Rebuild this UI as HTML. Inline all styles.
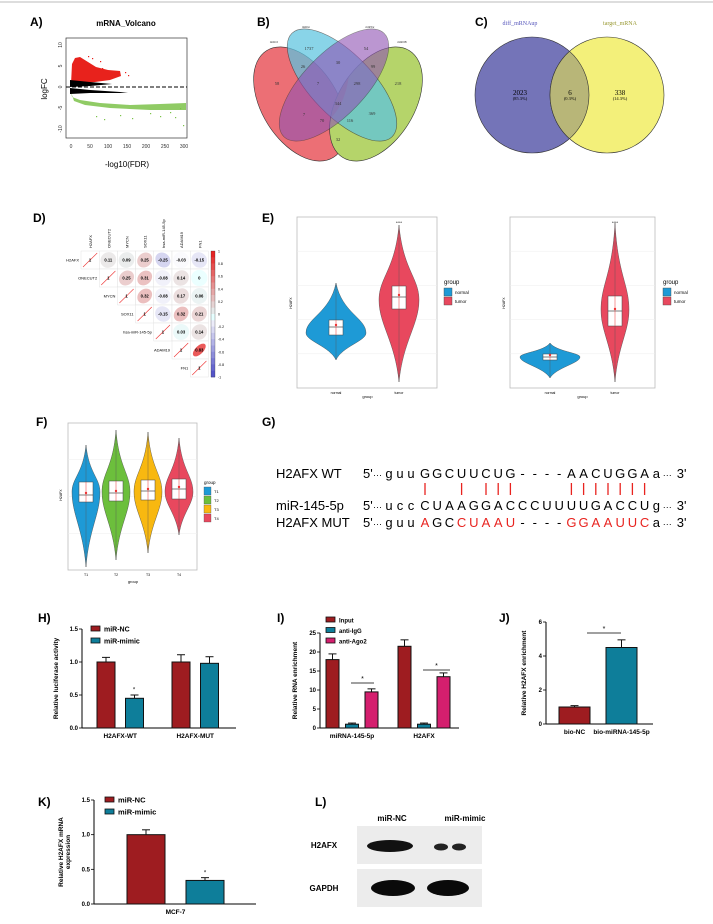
<!DOCTYPE html>
<html><head><meta charset="utf-8"><style>
body{margin:0;background:#fff}
svg{display:block;font-family:"Liberation Sans",Arial,sans-serif}
</style></head><body>
<svg id="fig" width="713" height="924" viewBox="0 0 713 924" xmlns="http://www.w3.org/2000/svg">
<defs>
<clipPath id="redClip"><ellipse cx="300" cy="104" rx="38" ry="63" transform="rotate(-32 300 104)"/></clipPath>
</defs>
<line x1="0" y1="2" x2="713" y2="2" stroke="#ddd" stroke-width="2"/>
<g font-weight="bold" font-size="12">
<text x="30" y="26">A)</text><text x="257" y="26">B)</text><text x="475" y="26">C)</text>
<text x="33" y="222">D)</text><text x="262" y="222">E)</text>
<text x="36" y="426">F)</text><text x="262" y="426">G)</text>
<text x="38" y="622">H)</text><text x="277" y="622">I)</text><text x="499" y="622">J)</text>
<text x="38" y="806">K)</text><text x="315" y="806">L)</text>
</g>
<!-- A volcano -->
<g>
<text x="126" y="26" font-size="8" font-weight="bold" text-anchor="middle">mRNA_Volcano</text>
<rect x="66" y="38" width="121" height="100" fill="none" stroke="#333" stroke-width="0.7"/>
<path d="M71,84 L72,64 L75,58 L80,57 L88,62 L96,67 L108,70 L120,71 L121,76 L110,80 L95,82 Z" fill="#e8221c"/>
<path d="M71,92 L72,97 L80,100 L100,103 L130,105 L160,104 L186,103 L186,110 L150,110 L110,108 L85,105 L74,101 Z" fill="#7cc24a" opacity="0.85"/>
<g fill="#e8221c">
<rect x="92" y="58" width="1.2" height="1.2"/><rect x="100" y="61" width="1.2" height="1.2"/><rect x="88" y="56" width="1.2" height="1.2"/><rect x="125" y="72" width="1.2" height="1.2"/><rect x="128" y="75" width="1.2" height="1.2"/><rect x="102" y="68" width="1.2" height="1.2"/>
</g>
<g fill="#7cc24a">
<rect x="150" y="113" width="1.2" height="1.2"/><rect x="170" y="112" width="1.2" height="1.2"/><rect x="160" y="116" width="1.2" height="1.2"/><rect x="180" y="108" width="1.2" height="1.2"/><rect x="96" y="116" width="1.2" height="1.2"/><rect x="104" y="119" width="1.2" height="1.2"/><rect x="120" y="115" width="1.2" height="1.2"/><rect x="175" y="117" width="1.2" height="1.2"/><rect x="183" y="125" width="1.2" height="1.2"/><rect x="132" y="118" width="1.2" height="1.2"/>
</g>
<path d="M70,80 L90,82 L112,84 L90,86 L70,87 Z" fill="#000"/>
<path d="M70,88 L90,90 L120,92 L128,93 L90,93 L70,94 Z" fill="#000"/>
<line x1="66" y1="87" x2="187" y2="87" stroke="#000" stroke-dasharray="4,2" stroke-width="1"/>
<g font-size="5" fill="#333" text-anchor="middle">
<text x="71" y="148">0</text><text x="90" y="148">50</text><text x="108" y="148">100</text><text x="127" y="148">150</text><text x="146" y="148">200</text><text x="165" y="148">250</text><text x="184" y="148">300</text>
</g>
<g font-size="5" fill="#333" text-anchor="middle">
<text transform="translate(62,45) rotate(-90)">10</text><text transform="translate(62,66) rotate(-90)">5</text><text transform="translate(62,87) rotate(-90)">0</text><text transform="translate(62,108) rotate(-90)">-5</text><text transform="translate(62,129) rotate(-90)">-10</text>
</g>
<text x="127" y="167" font-size="8" text-anchor="middle">-log10(FDR)</text>
<text transform="translate(47,89) rotate(-90)" font-size="8" text-anchor="middle">logFC</text>
</g>
<!-- B venn4 -->
<g stroke="#333" stroke-width="0.6">
<ellipse cx="300" cy="104" rx="38" ry="63" transform="rotate(-32 300 104)" fill="#ec6f75"/>
<ellipse cx="376" cy="104" rx="38" ry="63" transform="rotate(32 376 104)" fill="#b5d46a"/>
<ellipse cx="376" cy="104" rx="38" ry="63" transform="rotate(32 376 104)" fill="#e07a30" clip-path="url(#redClip)"/>
<ellipse cx="342" cy="85" rx="31" ry="72" transform="rotate(-44 342 85)" fill="#5cc4e0" opacity="0.72"/>
<ellipse cx="334" cy="85" rx="31" ry="72" transform="rotate(44 334 85)" fill="#8f52b4" opacity="0.6"/>
<g font-size="4.5" fill="#333" stroke="none" text-anchor="middle" font-family="Liberation Serif,serif">
<text x="309" y="50">1737</text><text x="366" y="50">54</text><text x="303" y="68">26</text><text x="338" y="64">30</text><text x="373" y="68">99</text>
<text x="277" y="85">58</text><text x="318" y="85">7</text><text x="357" y="85">298</text><text x="398" y="85">218</text>
<text x="338" y="105">344</text><text x="304" y="116">7</text><text x="322" y="122">70</text><text x="350" y="122">116</text><text x="372" y="115">369</text><text x="338" y="141">32</text>
<text x="274" y="43" font-size="3">miR10</text><text x="306" y="28" font-size="3">miRlst</text><text x="370" y="28" font-size="3">miRTar</text><text x="402" y="43" font-size="3">miRDB</text>
</g>
</g>
<!-- C venn2 -->
<g>
<ellipse cx="532" cy="95" rx="57" ry="58" fill="#7474b8" stroke="#333" stroke-width="0.6"/>
<ellipse cx="607" cy="95" rx="57" ry="58" fill="#f3f07a" stroke="#333" stroke-width="0.6"/>
<path d="M569.5,51.3 A57,58 0 0 1 569.5,138.7 A57,58 0 0 1 569.5,51.3Z" fill="#b8b678" stroke="#333" stroke-width="0.6"/>
<g font-family="Liberation Serif,serif" text-anchor="middle">
<text x="520" y="25" font-size="6" fill="#5555bb">diff_mRNAup</text><text x="620" y="25" font-size="6" fill="#999933">target_mRNA</text>
<text x="520" y="95" font-size="7">2023</text><text x="520" y="100" font-size="4.5">(85.3%)</text>
<text x="570" y="95" font-size="7">6</text><text x="570" y="100" font-size="4.5">(0.3%)</text>
<text x="620" y="95" font-size="7">338</text><text x="620" y="100" font-size="4.5">(14.3%)</text>
</g>
</g>
<g id="corr"></g>
<g id="eviol"></g>
<g id="fviol"></g>
<g id="seq" font-size="13"></g>
<g id="barH"></g>
<g id="barI"></g>
<g id="barJ"></g>
<g id="barK"></g>
<!-- L western -->
<g font-weight="bold" font-size="8">
<text x="392" y="821" text-anchor="middle">miR-NC</text><text x="465" y="821" text-anchor="middle">miR-mimic</text>
<text x="324" y="848" text-anchor="middle">H2AFX</text><text x="324" y="891" text-anchor="middle">GAPDH</text>
<rect x="357" y="826" width="125" height="38" fill="#ececec"/>
<rect x="357" y="869" width="125" height="38" fill="#ececec"/>
<ellipse cx="390" cy="846" rx="23" ry="6" fill="#111"/>
<ellipse cx="441" cy="847" rx="7" ry="3.5" fill="#222"/><ellipse cx="459" cy="847" rx="7" ry="3.5" fill="#222"/>
<ellipse cx="393" cy="888" rx="22" ry="8" fill="#0a0a0a"/><ellipse cx="448" cy="888" rx="21" ry="8" fill="#0a0a0a"/>
</g>
</svg>
<script>
const NS="http://www.w3.org/2000/svg";
function mk(p,t,a,txt){const e=document.createElementNS(NS,t);for(const k in a)e.setAttribute(k,a[k]);if(txt!==undefined)e.textContent=txt;p.appendChild(e);return e;}

// ---- D correlation ----
const corrVars=["H2AFX","ONECUT2","MYCN","SOX11","hsa-miR-145-5p","ADAM19","FN1"];
const corrRows=[[1,0.11,0.09,0.25,-0.25,-0.03,-0.15],[1,0.25,0.31,-0.08,0.14,0],[1,0.32,-0.08,0.17,0.06],[1,-0.15,0.32,0.21],[1,0.03,0.14],[1,0.83],[1]];
const colorTicks=["1","0.8","0.6","0.4","0.2","0","-0.2","-0.4","-0.6","-0.8","-1"];
(function(){
 const g=document.getElementById('corr');const x0=81,y0=251,cw=18.2,ch=18;
 function col(v){const t=Math.abs(v);return v>=0?`rgb(${235},${Math.round(255-200*t)},${Math.round(255-200*t)})`:`rgb(${Math.round(255-170*t)},${Math.round(255-170*t)},${Math.round(255-60*t)})`;}
 corrVars.forEach((n,i)=>{
  const t=mk(g,'text',{x:x0+i*cw+cw/2+2,y:y0-3,'font-size':4,transform:`rotate(-90 ${x0+i*cw+cw/2+2} ${y0-3})`},n);
  
  const r=mk(g,'text',{x:x0+i*cw-2,y:y0+i*ch+ch/2+1.5,'font-size':4,'text-anchor':'end'},n);
  
 });
 corrRows.forEach((row,i)=>row.forEach((v,k)=>{
  const j=i+k,cx=x0+j*cw+cw/2,cy=y0+i*ch+ch/2;
  mk(g,'rect',{x:x0+j*cw,y:y0+i*ch,width:cw,height:ch,fill:'#fff',stroke:'#ddd','stroke-width':0.4});
  if(k===0){mk(g,'line',{x1:x0+j*cw+2,y1:y0+i*ch+ch-2,x2:x0+j*cw+cw-2,y2:y0+i*ch+2,stroke:'#e33','stroke-width':0.6});}
  else{const e=mk(g,'ellipse',{cx,cy,rx:cw/2-1,ry:(cw/2-1)*(1-Math.abs(v)*0.6),transform:`rotate(${v>=0?-45:45} ${cx} ${cy})`,fill:col(v)});
   }
  mk(g,'text',{x:cx,y:cy+1.5,'font-size':4.2,'font-weight':'bold','text-anchor':'middle'},k===0?'1':String(v));
 }));
 for(let i=0;i<20;i++){const v=1-i/10;mk(g,'rect',{x:211,y:y0+i*126/20,width:4,height:126/20+0.3,fill:v>=0?`rgb(230,${Math.round(255-220*v)},${Math.round(255-220*v)})`:`rgb(${Math.round(255+190*v)},${Math.round(255+190*v)},${Math.round(255+60*v)})`});}
 mk(g,'rect',{x:211,y:y0,width:4,height:126,fill:'none',stroke:'#333','stroke-width':0.3});
 colorTicks.forEach((t,i)=>mk(g,'text',{x:218,y:y0+i*12.6+1.5,'font-size':3.5},t));
})();

// ---- E & F violins ----
function violin(g,cx,top,bot,wide,hw,color,boxT,boxB,med){
 const mid=wide;
 const d=`M${cx},${top} C${cx+hw*0.2},${mid-(mid-top)*0.4} ${cx+hw},${mid-(mid-top)*0.3} ${cx+hw},${mid} C${cx+hw},${mid+(bot-mid)*0.3} ${cx+hw*0.2},${mid+(bot-mid)*0.5} ${cx},${bot} C${cx-hw*0.2},${mid+(bot-mid)*0.5} ${cx-hw},${mid+(bot-mid)*0.3} ${cx-hw},${mid} C${cx-hw},${mid-(mid-top)*0.3} ${cx-hw*0.2},${mid-(mid-top)*0.4} ${cx},${top}Z`;
 const p=mk(g,'path',{d,fill:color,stroke:'#444','stroke-width':0.4});
 
 mk(g,'line',{x1:cx,y1:top,x2:cx,y2:bot,stroke:'#555','stroke-width':0.4});
 mk(g,'rect',{x:cx-7,y:boxT,width:14,height:boxB-boxT,fill:'#fff',stroke:'#444','stroke-width':0.5});
 mk(g,'line',{x1:cx-7,y1:med,x2:cx+7,y2:med,stroke:'#444','stroke-width':0.7});
 mk(g,'line',{x1:cx,y1:boxT,x2:cx,y2:boxB,stroke:'#e33','stroke-width':0.5});
 mk(g,'circle',{cx,cy:med-2,r:1.2,fill:'#e33'});
}
function frame(g,x,y,w,h,ny){
 mk(g,'rect',{x,y,width:w,height:h,fill:'#fff',stroke:'#bbb','stroke-width':0.8});
 for(let i=1;i<ny;i++)mk(g,'line',{x1:x,y1:y+h*i/ny,x2:x+w,y2:y+h*i/ny,stroke:'#eee','stroke-width':0.5});
}
(function(){
 const g=document.getElementById('eviol');
 frame(g,297,217,140,171,5);
 violin(g,336,283,360,333,30,'#1e9ad6',320,335,327);
 violin(g,399,225,382,300,20,'#e8485e',286,309,297);
 mk(g,'text',{x:399,y:224,'font-size':4,'text-anchor':'middle'},'****');
 frame(g,510,217,145,171,5);
 violin(g,550,343,378,357,30,'#1e9ad6',354,360,357);
 violin(g,615,223,382,310,14,'#e8485e',296,326,311);
 mk(g,'text',{x:615,y:224,'font-size':4,'text-anchor':'middle'},'****');
 [[444,336,399],[663,550,615]].forEach(([lx,a,b])=>{
  mk(g,'text',{x:a,y:394,'font-size':3.5,'text-anchor':'middle'},'normal');mk(g,'text',{x:b,y:394,'font-size':3.5,'text-anchor':'middle'},'tumor');
  mk(g,'text',{x:(a+b)/2,y:398,'font-size':4,'text-anchor':'middle'},'group');
  mk(g,'text',{x:lx,y:284,'font-size':6},'group');
  mk(g,'rect',{x:lx,y:288,width:8,height:8,fill:'#1e9ad6',stroke:'#444','stroke-width':0.4});
  mk(g,'rect',{x:lx,y:297,width:8,height:8,fill:'#e8485e',stroke:'#444','stroke-width':0.4});
  mk(g,'text',{x:lx+11,y:294,'font-size':4.5},'normal');mk(g,'text',{x:lx+11,y:303,'font-size':4.5},'tumor');
 });
 mk(g,'text',{x:292,y:303,'font-size':3.5,transform:'rotate(-90 292 303)','text-anchor':'middle'},'H2AFX');
 mk(g,'text',{x:505,y:303,'font-size':3.5,transform:'rotate(-90 505 303)','text-anchor':'middle'},'H2AFX');
 const f=document.getElementById('fviol');
 frame(f,68,423,129,147,4);
 const fc=['#1e9ad6','#6cbf3c','#f8b810','#e8485e'];const fx=[86,116,148,179];const ft=[445,430,432,438];const fb=[567,560,553,535];
 fx.forEach((x,i)=>violin(f,x,ft[i],fb[i],492,14,fc[i],482-i*1,502-i,495-i*2));
 fx.forEach((x,i)=>mk(f,'text',{x,y:576,'font-size':3.5,'text-anchor':'middle'},'T'+(i+1)));
 mk(f,'text',{x:133,y:583,'font-size':4,'text-anchor':'middle'},'group');
 mk(f,'text',{x:62,y:495,'font-size':3.5,transform:'rotate(-90 62 495)','text-anchor':'middle'},'H2AFX');
 mk(f,'text',{x:204,y:484,'font-size':4.5},'group');
 fc.forEach((c,i)=>{mk(f,'rect',{x:204,y:487+i*9,width:7,height:8,fill:c,stroke:'#444','stroke-width':0.3});mk(f,'text',{x:214,y:493+i*9,'font-size':4},'T'+(i+1));});
})();

// ---- G sequences ----
(function(){
 const g=document.getElementById('seq');const x0=425,dx=12.2;
 const rows=[{y:478,lab:'H2AFX  WT',pre:'guu',s:'GGCUUCUG----AACUGGA',post:'a',red:''},
  {y:510,lab:'miR-145-5p',pre:'ucc',s:'CUAAGGACCCUUUUGACCU',post:'g',red:''},
  {y:527,lab:'H2AFX  MUT',pre:'guu',s:'AGCCUAAU----GGAAUUC',post:'a',red:'10011111000011111111'}];
 rows.forEach(r=>{
  mk(g,'text',{x:276,y:r.y,'xml:space':'preserve'},r.lab);
  mk(g,'text',{x:363,y:r.y},"5'");
  mk(g,'text',{x:373,y:r.y,'font-size':9},'···');
  [...r.pre].forEach((c,i)=>mk(g,'text',{x:389+i*11,y:r.y,'text-anchor':'middle'},c));
  [...r.s].forEach((c,i)=>mk(g,'text',{x:x0+i*dx,y:r.y,'text-anchor':'middle',fill:r.red[i]==='1'&&c!=='-'?'#e8231f':'#000'},c));
  mk(g,'text',{x:x0+19*dx-4,y:r.y},r.post);
  mk(g,'text',{x:x0+19*dx+6,y:r.y,'font-size':9},'···');
  mk(g,'text',{x:x0+19*dx+20,y:r.y},"3'");
 });
 [0,3,5,6,7,12,13,14,15,16,17,18].forEach(i=>mk(g,'line',{x1:x0+i*dx,y1:483,x2:x0+i*dx,y2:495,stroke:'#e8231f','stroke-width':1.3}));
})();

// ---- bar charts ----
function barChart(id,o){
 const g=document.getElementById(id);
 const sy=v=>o.y0-(v/o.max)*(o.y0-o.yTop);
 mk(g,'line',{x1:o.ax,y1:o.yTop,x2:o.ax,y2:o.y0,stroke:'#000','stroke-width':1});
 mk(g,'line',{x1:o.ax,y1:o.y0,x2:o.axEnd,y2:o.y0,stroke:'#000','stroke-width':1});
 o.ticks.forEach(t=>{mk(g,'line',{x1:o.ax-3,y1:sy(t),x2:o.ax,y2:sy(t),stroke:'#000','stroke-width':0.8});
  mk(g,'text',{x:o.ax-4,y:sy(t)+2,'font-size':6,'font-weight':'bold','text-anchor':'end'},o.fmt(t));});
 o.vals.forEach((grp,gi)=>grp.forEach((v,si)=>{
  const x=o.gx[gi]+si*o.step,w=o.bw,e=o.errs[gi][si];
  const r=mk(g,'rect',{x,y:sy(v),width:w,height:o.y0-sy(v),fill:(o.barColors?o.barColors[gi]:o.colors[si]),stroke:'#111','stroke-width':1});
  
  mk(g,'line',{x1:x+w/2,y1:sy(v),x2:x+w/2,y2:sy(v+e),stroke:'#111','stroke-width':1});
  mk(g,'line',{x1:x+w/2-4,y1:sy(v+e),x2:x+w/2+4,y2:sy(v+e),stroke:'#111','stroke-width':1});
 }));
 o.cats.forEach((c,gi)=>{const cx=o.gx[gi]+((o.vals[gi].length-1)*o.step+o.bw)/2;
  mk(g,'text',{x:cx,y:o.y0+10,'font-size':6.5,'font-weight':'bold','text-anchor':'middle'},c);});
 o.legend.forEach((l,i)=>{mk(g,'rect',{x:o.lx,y:o.ly+i*o.lstep-4,width:9,height:5,fill:o.colors[i],stroke:'#111','stroke-width':0.8});
  mk(g,'text',{x:o.lx+13,y:o.ly+i*o.lstep+1.5,'font-size':o.lfs,'font-weight':'bold'},l);});
 o.yLabel.forEach((t,i)=>mk(g,'text',{x:o.ylx+i*7,y:(o.yTop+o.y0)/2,'font-size':6.5,'font-weight':'bold','text-anchor':'middle',transform:`rotate(-90 ${o.ylx+i*7} ${(o.yTop+o.y0)/2})`},t));
 (o.sig||[]).forEach(s=>{mk(g,'line',{x1:s[0],y1:s[2],x2:s[1],y2:s[2],stroke:'#000','stroke-width':0.8});mk(g,'text',{x:(s[0]+s[1])/2,y:s[2]-2,'font-size':7,'text-anchor':'middle'},'*');});
 return sy;
}
// H
const hCats=["H2AFX-WT","H2AFX-MUT"];
const hVals=[[1.0,0.45],[1.0,0.98]];
const hErr=[[0.07,0.05],[0.11,0.1]];
const hTicks=[0,0.5,1.0,1.5];
const syH=barChart('barH',{ax:82,axEnd:236,y0:728,yTop:629,max:1.5,ticks:hTicks,fmt:t=>t.toFixed(1),vals:hVals,errs:hErr,cats:hCats,gx:[97,172],step:28.5,bw:18,colors:['#9e1c20','#0e7e9a'],legend:['miR-NC','miR-mimic'],lx:91,ly:630,lstep:12,lfs:7,yLabel:['Relative luciferase activity'],ylx:58});
mk(document.getElementById('barH'),'text',{x:134,y:syH(0.52)-2,'font-size':6,'text-anchor':'middle'},'*');
// I
const iCats=["miRNA-145-5p","H2AFX"];
const iVals=[[18,1,9.5],[21.5,1,13.5]];
const iErr=[[1.5,0.3,0.8],[1.7,0.3,1.0]];
const iTicks=[0,5,10,15,20,25];
barChart('barI',{ax:320,axEnd:459,y0:728,yTop:633,max:25,ticks:iTicks,fmt:t=>String(t),vals:iVals,errs:iErr,cats:iCats,gx:[326,398],step:19.5,bw:13,colors:['#9e1c20','#0e7e9a','#d41f6e'],legend:['Input','anti-IgG','anti-Ago2'],lx:326,ly:621,lstep:10.5,lfs:6,yLabel:['Relative RNA enrichment'],ylx:297,sig:[[351,374,683],[423,450,670]]});
// J
const jCats=["bio-NC","bio-miRNA-145-5p"];
const jVals=[[1.0],[4.5]];
const jErr=[[0.08],[0.45]];
const jTicks=[0,2,4,6];
barChart('barJ',{ax:546,axEnd:653,y0:724,yTop:622,max:6,ticks:jTicks,fmt:t=>String(t),vals:jVals,errs:jErr,cats:jCats,gx:[559,606],step:0,bw:31,colors:['#9e1c20','#0e7e9a'],barColors:['#9e1c20','#0e7e9a'],legend:[],lx:0,ly:0,lstep:0,lfs:6,yLabel:['Relative H2AFX enrichment'],ylx:526,sig:[[587,621,633]]});
// K
const kCats=["MCF-7"];
const kVals=[[1.0,0.34]];
const kErr=[[0.07,0.04]];
const kTicks=[0,0.5,1.0,1.5];
const syK=barChart('barK',{ax:94,axEnd:256,y0:904,yTop:800,max:1.5,ticks:kTicks,fmt:t=>t.toFixed(1),vals:kVals,errs:kErr,cats:kCats,gx:[127],step:59,bw:38,colors:['#9e1c20','#0e7e9a'],legend:['miR-NC','miR-mimic'],lx:105,ly:801,lstep:12,lfs:7.5,yLabel:['Relative H2AFX mRNA','expression'],ylx:63});
mk(document.getElementById('barK'),'text',{x:205,y:syK(0.38)-3,'font-size':6,'text-anchor':'middle'},'*');
</script>
</body></html>
